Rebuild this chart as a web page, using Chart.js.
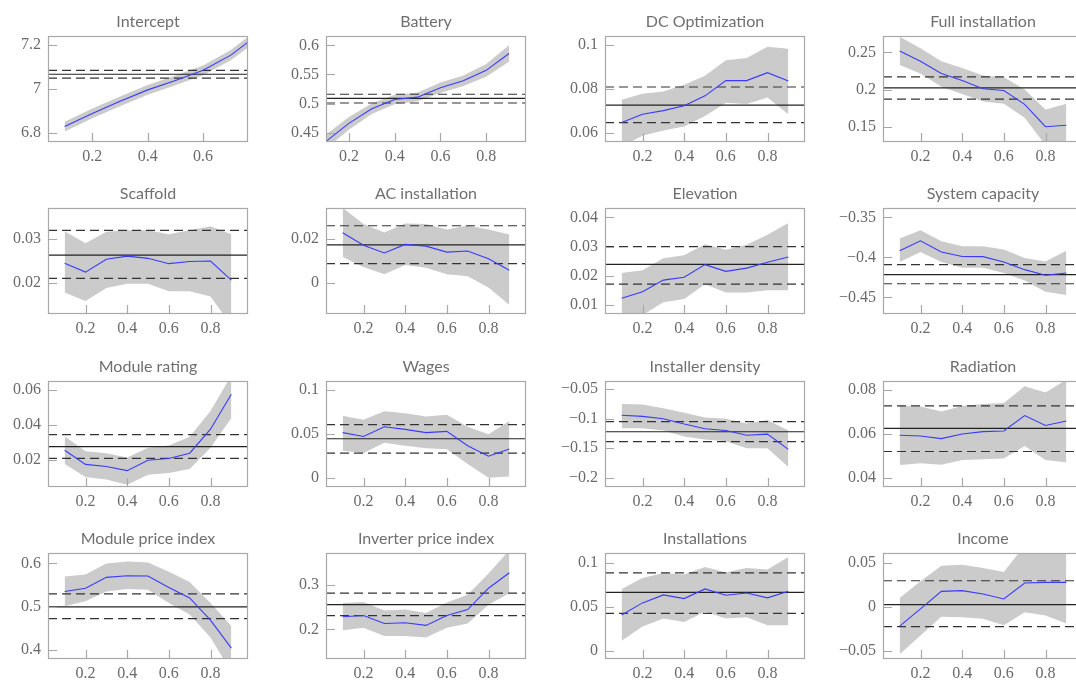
<!DOCTYPE html>
<html>
<head>
<meta charset="utf-8">
<script src="https://cdn.jsdelivr.net/npm/chart.js@4.4.1/dist/chart.umd.min.js"></script>
<style>
html,body{margin:0;padding:0;background:#fff;}
body{position:relative;width:1076px;height:682px;overflow:hidden;}
canvas{position:absolute;}
</style>
</head>
<body>
<script>
// quantile regression estimates with 95% bands, OLS estimate + CI as horizontal lines
const quantiles=[0.1,0.2,0.3,0.4,0.5,0.6,0.7,0.8,0.9];
const xTicks=[0.2,0.4,0.6,0.8];

const titles=['Intercept','Battery','DC Optimization','Full installation',
  'Scaffold','AC installation','Elevation','System capacity',
  'Module rating','Wages','Installer density','Radiation',
  'Module price index','Inverter price index','Installations','Income'];

const olsEst=[7.068,0.509,0.0727,0.2023, 0.0263,0.0173,0.0239,-0.4215, 0.0276,0.0446,-0.122,0.0626, 0.5,0.2556,0.0664,0.0026];
const olsLo=[7.05,0.501,0.0648,0.187, 0.0211,0.0088,0.0171,-0.4329, 0.0208,0.0281,-0.1388,0.052, 0.4726,0.2311,0.0426,-0.0226];
const olsHi=[7.086,0.516,0.0809,0.217, 0.0319,0.0259,0.030,-0.409, 0.0345,0.0607,-0.105,0.0728, 0.5297,0.2815,0.0887,0.0297];

const interceptQr=[6.83,6.89,6.945,6.997,7.04,7.086,7.155,7.25,7.35];
const interceptLo=[6.808,6.868,6.923,6.975,7.018,7.064,7.132,7.225,7.32];
const interceptHi=[6.852,6.912,6.967,7.019,7.062,7.108,7.178,7.275,7.38];

const batteryQr=[0.435,0.466,0.491,0.507,0.511,0.527,0.539,0.557,0.586];
const batteryLo=[0.423,0.455,0.482,0.499,0.504,0.518,0.530,0.546,0.572];
const batteryHi=[0.447,0.477,0.500,0.515,0.519,0.536,0.548,0.568,0.600];

const dcQr=[0.0648,0.0686,0.0702,0.0724,0.0769,0.0838,0.0838,0.0874,0.0836];
const dcLo=[0.054,0.0588,0.0612,0.063,0.0678,0.0738,0.0732,0.0761,0.0686];
const dcHi=[0.0751,0.0778,0.0789,0.0819,0.086,0.093,0.094,0.0991,0.0982];

const fullQr=[0.2518,0.238,0.2215,0.212,0.201,0.1987,0.18,0.15,0.152];
const fullLo=[0.233,0.2215,0.2036,0.194,0.184,0.181,0.162,0.125,0.122];
const fullHi=[0.271,0.2554,0.238,0.229,0.219,0.2166,0.2,0.173,0.181];

const scaffoldQr=[0.0245,0.0225,0.0254,0.0261,0.0256,0.0244,0.0249,0.025,0.0207];
const scaffoldLo=[0.0179,0.016,0.0189,0.0199,0.0199,0.0182,0.0182,0.017,0.0105];
const scaffoldHi=[0.0317,0.029,0.0316,0.0319,0.0319,0.031,0.0319,0.0328,0.031];

const acQr=[0.0227,0.0171,0.0136,0.0175,0.0167,0.014,0.0145,0.011,0.0058];
const acLo=[0.0118,0.0073,0.004,0.0082,0.007,0.004,0.0031,-0.0019,-0.0098];
const acHi=[0.034,0.0267,0.0228,0.0269,0.0267,0.0242,0.026,0.0242,0.022];

const elevQr=[0.0123,0.0145,0.0185,0.0195,0.0238,0.0215,0.0226,0.0246,0.0264];
const elevLo=[0.004,0.0065,0.0109,0.012,0.0171,0.0143,0.0143,0.015,0.015];
const elevHi=[0.0209,0.0219,0.026,0.027,0.0308,0.0289,0.0306,0.034,0.0381];

const capQr=[-0.3917,-0.3793,-0.3933,-0.3988,-0.399,-0.4057,-0.4153,-0.4223,-0.4194];
const capLo=[-0.4057,-0.3933,-0.4057,-0.413,-0.413,-0.4194,-0.429,-0.443,-0.447];
const capHi=[-0.3764,-0.366,-0.3797,-0.386,-0.386,-0.39,-0.4008,-0.405,-0.3917];

const ratingQr=[0.0255,0.0174,0.0162,0.0138,0.0198,0.0208,0.0238,0.0376,0.0577];
const ratingLo=[0.0176,0.0101,0.0087,0.0057,0.0114,0.0125,0.0147,0.027,0.0441];
const ratingHi=[0.0336,0.025,0.0238,0.0213,0.027,0.0283,0.0332,0.0481,0.0685];

const wagesQr=[0.0516,0.0471,0.0583,0.0553,0.0516,0.053,0.0366,0.0247,0.0329];
const wagesLo=[0.031,0.0284,0.04,0.0367,0.0337,0.0326,0.0157,0.0,0.0015];
const wagesHi=[0.0708,0.0663,0.076,0.0738,0.07,0.072,0.0583,0.0497,0.0648];

const densQr=[-0.094,-0.096,-0.1,-0.109,-0.117,-0.12,-0.128,-0.126,-0.152];
const densLo=[-0.116,-0.116,-0.12,-0.13,-0.135,-0.138,-0.15,-0.15,-0.182];
const densHi=[-0.075,-0.076,-0.082,-0.09,-0.098,-0.1,-0.108,-0.102,-0.12];

const radQr=[0.0594,0.0591,0.0579,0.06,0.0611,0.0614,0.0684,0.0639,0.0659];
const radLo=[0.0459,0.0467,0.046,0.0481,0.0485,0.0488,0.0545,0.0481,0.0471];
const radHi=[0.0728,0.0725,0.0703,0.0728,0.0737,0.0742,0.0818,0.079,0.0848];

const modPriceQr=[0.5352,0.5429,0.568,0.5717,0.571,0.5447,0.5205,0.4694,0.4046];
const modPriceLo=[0.5014,0.5128,0.5352,0.541,0.5395,0.509,0.4824,0.429,0.35];
const modPriceHi=[0.5698,0.5744,0.6,0.6045,0.6023,0.581,0.557,0.509,0.4557];

const invPriceQr=[0.2282,0.2311,0.2133,0.2148,0.2089,0.2311,0.2444,0.2926,0.3274];
const invPriceLo=[0.1978,0.2037,0.1852,0.1852,0.1815,0.2037,0.213,0.2556,0.2815];
const invPriceHi=[0.2593,0.2615,0.2422,0.2444,0.237,0.2607,0.2778,0.3259,0.378];

const instQr=[0.0407,0.0545,0.0636,0.0594,0.0704,0.0632,0.0658,0.0602,0.0677];
const instLo=[0.0113,0.0275,0.0368,0.0328,0.0443,0.0368,0.038,0.029,0.029];
const instHi=[0.0704,0.0828,0.0885,0.0867,0.0954,0.0894,0.0943,0.0924,0.1068];

const incomeQr=[-0.0219,-0.0023,0.0176,0.0184,0.0147,0.009,0.0271,0.0278,0.0278];
const incomeLo=[-0.054,-0.0325,-0.0113,-0.0118,-0.0136,-0.0211,-0.0061,-0.0098,-0.0189];
const incomeHi=[0.0102,0.029,0.0469,0.048,0.0441,0.0396,0.07,0.075,0.07];

const yTickSets=[
  [6.8,7,7.2],[0.45,0.5,0.55,0.6],[0.06,0.08,0.1],[0.15,0.2,0.25],
  [0.02,0.03],[0,0.02],[0.01,0.02,0.03,0.04],[-0.45,-0.4,-0.35],
  [0.02,0.04,0.06],[0,0.05,0.1],[-0.2,-0.15,-0.1,-0.05],[0.04,0.06,0.08],
  [0.4,0.5,0.6],[0.2,0.3],[0,0.05,0.1],[-0.05,0,0.05]
];

const series=[
  [interceptQr,interceptLo,interceptHi],[batteryQr,batteryLo,batteryHi],[dcQr,dcLo,dcHi],[fullQr,fullLo,fullHi],
  [scaffoldQr,scaffoldLo,scaffoldHi],[acQr,acLo,acHi],[elevQr,elevLo,elevHi],[capQr,capLo,capHi],
  [ratingQr,ratingLo,ratingHi],[wagesQr,wagesLo,wagesHi],[densQr,densLo,densHi],[radQr,radLo,radHi],
  [modPriceQr,modPriceLo,modPriceHi],[invPriceQr,invPriceLo,invPriceHi],[instQr,instLo,instHi],[incomeQr,incomeLo,incomeHi]
];

// axis limits [xmin,xmax,ymin,ymax]
const limits=[
  [0.04,0.762,6.76,7.242],[0.1,0.974,0.434,0.616],[0.02,0.98,0.056,0.104],[0.02,0.98,0.1294,0.272],
  [0.02,0.98,0.01307,0.03693],[0.02,0.98,-0.0139,0.0339],[0.02,0.98,0.0069,0.0432],[0.02,0.98,-0.4707,-0.3383],
  [0.02,0.98,0.0044,0.0653],[0.02,0.98,-0.0105,0.1105],[0.02,0.98,-0.2157,-0.036],[0.02,0.98,0.0358,0.0842],
  [0.02,0.98,0.3795,0.6242],[0.02,0.98,0.1333,0.3718],[0.02,0.98,-0.0094,0.1113],[0.02,0.98,-0.0594,0.0613]
];

const colLeft=[48,326,605,883];
const rowTop=[36,208,381,553];
const PW=200,PH=106,L=60,T=32,R=8,B=30;
const serif="'Liberation Serif', 'Times New Roman', serif";

const fmt=v=>(v<0?'\u2212':'')+String(Math.abs(v));
const pts=arr=>arr.map((y,i)=>({x:quantiles[i],y}));

const framePlugin={
  id:'frame',
  afterDatasetsDraw(chart,args,opts){
    const {ctx,chartArea:a,scales}=chart;
    ctx.save();
    ctx.strokeStyle='#a8a8a8';
    ctx.lineWidth=1.2;
    ctx.strokeRect(a.left+0.5,a.top+0.5,a.right-a.left-1,a.bottom-a.top-1);
    ctx.beginPath();
    opts.xTicks.forEach(v=>{
      const px=Math.round(scales.x.getPixelForValue(v))+0.5;
      ctx.moveTo(px,a.bottom);ctx.lineTo(px,a.bottom-9);
    });
    opts.yTicks.forEach(v=>{
      const py=Math.round(scales.y.getPixelForValue(v))+0.5;
      ctx.moveTo(a.left,py);ctx.lineTo(a.left+9,py);
    });
    ctx.stroke();
    ctx.fillStyle='#6f6f6f';
    ctx.font='16px Lato';
    ctx.textAlign='center';
    ctx.textBaseline='middle';
    ctx.fillText(opts.title,(a.left+a.right)/2,a.top-14);
    ctx.restore();
  }
};

titles.forEach((title,k)=>{
  const col=k%4,row=Math.floor(k/4);
  const [xmin,xmax,ymin,ymax]=limits[k];
  const [qr,lo,hi]=series[k];
  const xt=xTicks.filter(v=>v>=xmin&&v<=xmax);
  const cv=document.createElement('canvas');
  cv.width=L+PW+R;cv.height=T+PH+B;
  cv.style.left=(colLeft[col]-L)+'px';
  cv.style.top=(rowTop[row]-T)+'px';
  document.body.appendChild(cv);

  const hline=(v)=>[{x:xmin,y:v},{x:xmax,y:v}];
  const base={pointRadius:0,tension:0};

  new Chart(cv.getContext('2d'),{
    type:'line',
    data:{datasets:[
      {...base,data:pts(qr),borderColor:'#3a3aff',borderWidth:1.1,fill:false},
      {...base,data:hline(olsEst[k]),borderColor:'#222',borderWidth:1.2,fill:false},
      {...base,data:hline(olsLo[k]),borderColor:'#333',borderWidth:1.2,borderDash:[9,5],fill:false},
      {...base,data:hline(olsHi[k]),borderColor:'#333',borderWidth:1.2,borderDash:[9,5],fill:false},
      {...base,data:pts(hi),borderWidth:0,borderColor:'rgba(0,0,0,0)',backgroundColor:'#cbcbcb',fill:'+1'},
      {...base,data:pts(lo),borderWidth:0,borderColor:'rgba(0,0,0,0)',fill:false}
    ]},
    options:{
      responsive:false,
      animation:false,
      devicePixelRatio:1,
      layout:{padding:{left:0,top:T,right:R,bottom:0}},
      plugins:{legend:{display:false},tooltip:{enabled:false},frame:{title,yTicks:yTickSets[k],xTicks:xt}},
      scales:{
        x:{
          type:'linear',min:xmin,max:xmax,
          afterBuildTicks:s=>{s.ticks=xt.map(v=>({value:v}));},
          afterFit:s=>{s.height=B;},
          grid:{display:false,drawTicks:false},
          border:{display:false},
          ticks:{callback:v=>fmt(v),color:'#6a6a6a',font:{family:serif,size:16},padding:5,maxRotation:0,autoSkip:false}
        },
        y:{
          type:'linear',min:ymin,max:ymax,
          afterBuildTicks:s=>{s.ticks=yTickSets[k].map(v=>({value:v}));},
          afterFit:s=>{s.width=L;},
          grid:{display:false,drawTicks:false},
          border:{display:false},
          ticks:{callback:v=>fmt(v),color:'#6a6a6a',font:{family:serif,size:16},padding:7,autoSkip:false}
        }
      }
    },
    plugins:[framePlugin]
  });
});
</script>
</body>
</html>
